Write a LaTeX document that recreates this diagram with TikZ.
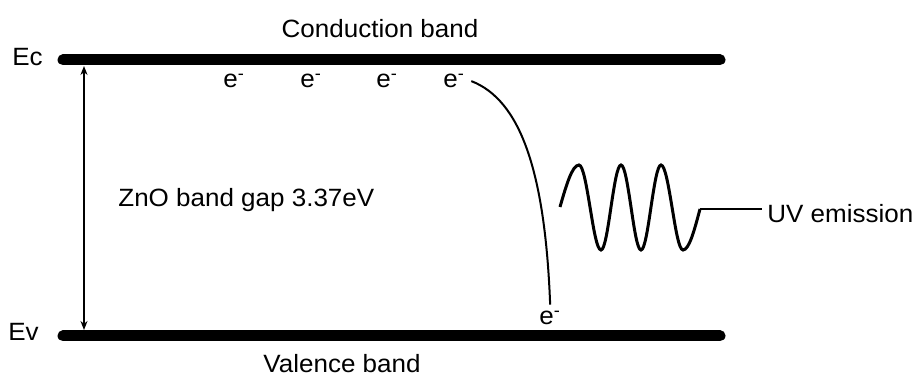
\documentclass[tikz,border=0pt]{standalone}
\usepackage{fontspec}
\setmainfont{Liberation Sans}[FakeStretch=1.04]
\usepackage{tikz}
\usetikzlibrary{arrows.meta}

\tikzset{
  band/.style={line width=5.5pt, line cap=round},
  lbl/.style={font=\fontsize{12.5}{15}\selectfont, inner sep=0pt, anchor=base},
  elec/.style={lbl, anchor=base west, inner sep=3pt},
}

\begin{document}
\begin{tikzpicture}[x=0.5pt, y=-0.5pt]
  \useasboundingbox (0,0) rectangle (917,378);
  % band edges
  \coordinate (ecL) at (63,60);  \coordinate (ecR) at (720,60);
  \coordinate (evL) at (63,336); \coordinate (evR) at (720,336);
  \draw[band] (ecL) -- (ecR);
  \draw[band] (evL) -- (evR);
  \node[lbl, anchor=base east] (ec) at (43,66) {Ec};
  \node[lbl, anchor=base east] (ev) at (39,341) {Ev};
  \node[lbl] (cb) at (380,38) {Conduction band};
  \node[lbl] (vb) at (342,373) {Valence band};
  % gap
  \coordinate (gapTop) at (84,66);
  \coordinate (gapBot) at (84,330);
  \draw[{Stealth[length=4.5pt,width=3.5pt]}-{Stealth[length=4.5pt,width=3.5pt]}, line width=0.9pt] (gapTop) -- (gapBot);
  \node[lbl, anchor=base west] (gap) at (118,207) {ZnO band gap 3.37eV};
  % electrons
  \foreach \x/\n in {223/1, 300/2, 376/3, 443/4}
    \node[elec] (e\n) at ({\x-6},88) {e\textsuperscript{-}};
  \node[elec] (e5) at (533,325) {e\textsuperscript{-}};
  \draw[line width=1pt] (e4.east) .. controls (520,100) and (545,170) .. (e5.north);
  % photon
  \coordinate (w0) at (560,207);
  \draw[line width=1.5pt] (w0) sin (579,165) cos (590,207) sin (601,250) cos (611,207)
    sin (621,165) cos (631,207) sin (641,250) cos (651,207)
    sin (661,165) cos (672,207) sin (683,250) cos (700,209) coordinate (w1);
  \node[lbl, anchor=base west] (uv) at (767,223) {UV emission};
  \draw[line width=0.8pt] (w1) -- ([xshift=-2.5pt]uv.west |- w1);
\end{tikzpicture}
\end{document}
